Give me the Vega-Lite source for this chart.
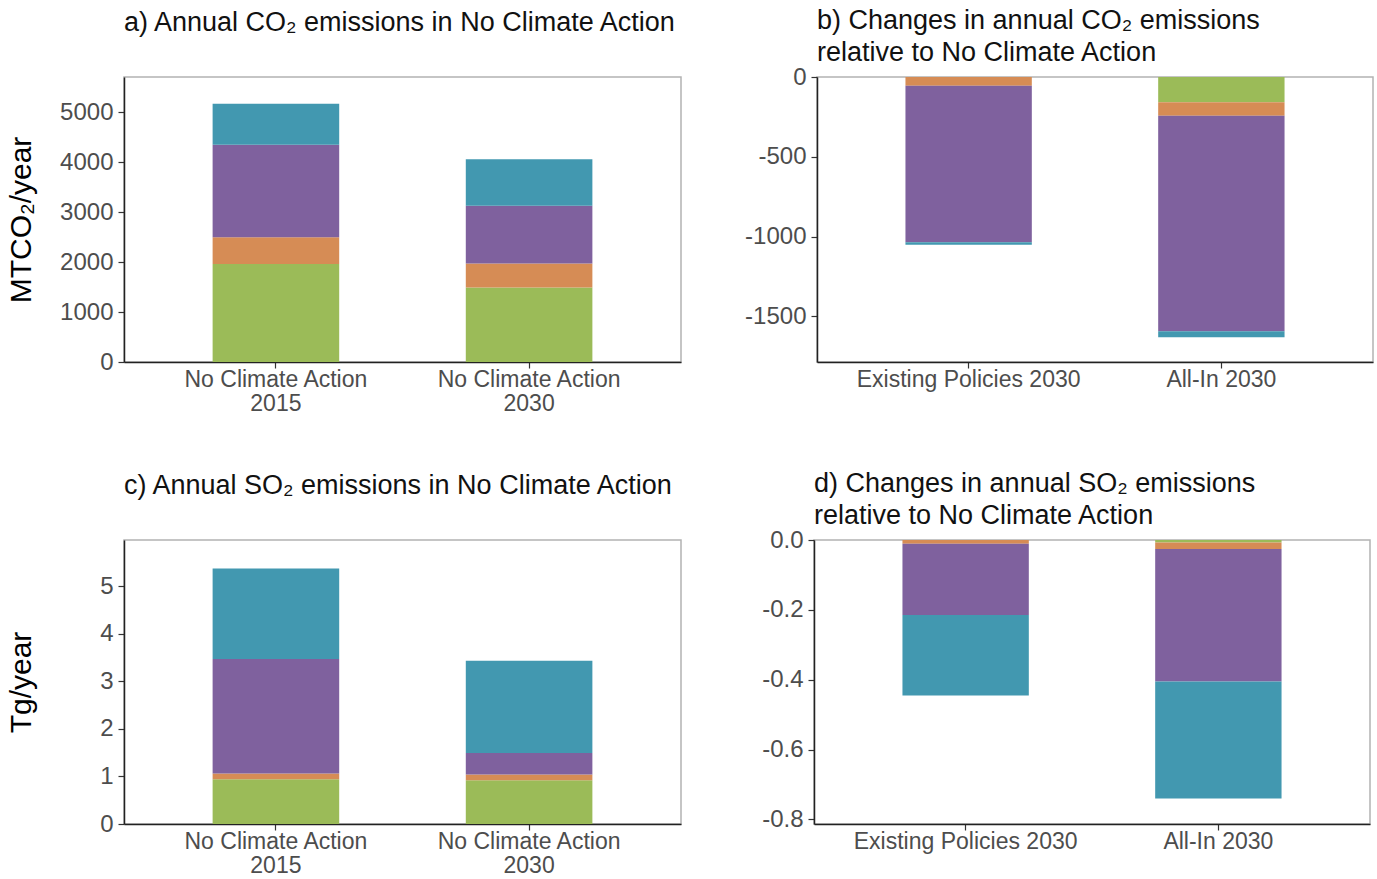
{
  "$schema": "https://vega.github.io/schema/vega-lite/v6.json",
  "background": "white",
  "padding": {"left": 5, "top": 6, "right": 2, "bottom": 0},
  "config": {
    "font": "Liberation Sans",
    "view": {"stroke": "#b3b3b3", "strokeWidth": 1.5},
    "title": {"fontSize": 27, "fontWeight": "normal", "color": "#111111", "anchor": "start", "frame": "group", "lineHeight": 32, "offset": -2},
    "axis": {"domainColor": "#222222", "domainWidth": 1.5, "tickColor": "#333333", "tickWidth": 1.2, "tickSize": 6, "labelColor": "#4d4d4d", "labelFontSize": 24, "grid": false, "labelPadding": 5, "titleFontWeight": "normal", "titleColor": "#000000", "titleFontSize": 30},
    "axisX": {"labelAngle": 0, "labelFontSize": 23, "labelLineHeight": 24, "labelLimit": 0, "labelPadding": 0, "title": null},
    "bar": {"stroke": null}
  },
  "datasets": {
    "emissions": [
      {"panel": "a", "scenario": "No Climate Action 2015", "sector": "Buildings", "rank": 1, "value": 1960},
      {"panel": "a", "scenario": "No Climate Action 2015", "sector": "Transport", "rank": 2, "value": 535},
      {"panel": "a", "scenario": "No Climate Action 2015", "sector": "Power", "rank": 3, "value": 1850},
      {"panel": "a", "scenario": "No Climate Action 2015", "sector": "Industry", "rank": 4, "value": 820},
      {"panel": "a", "scenario": "No Climate Action 2030", "sector": "Buildings", "rank": 1, "value": 1490},
      {"panel": "a", "scenario": "No Climate Action 2030", "sector": "Transport", "rank": 2, "value": 480},
      {"panel": "a", "scenario": "No Climate Action 2030", "sector": "Power", "rank": 3, "value": 1155},
      {"panel": "a", "scenario": "No Climate Action 2030", "sector": "Industry", "rank": 4, "value": 930},
      {"panel": "b", "scenario": "Existing Policies 2030", "sector": "Transport", "rank": 2, "value": -55},
      {"panel": "b", "scenario": "Existing Policies 2030", "sector": "Power", "rank": 3, "value": -980},
      {"panel": "b", "scenario": "Existing Policies 2030", "sector": "Industry", "rank": 4, "value": -15},
      {"panel": "b", "scenario": "All-In 2030", "sector": "Buildings", "rank": 1, "value": -158},
      {"panel": "b", "scenario": "All-In 2030", "sector": "Transport", "rank": 2, "value": -84},
      {"panel": "b", "scenario": "All-In 2030", "sector": "Power", "rank": 3, "value": -1350},
      {"panel": "b", "scenario": "All-In 2030", "sector": "Industry", "rank": 4, "value": -38},
      {"panel": "c", "scenario": "No Climate Action 2015", "sector": "Buildings", "rank": 1, "value": 0.94},
      {"panel": "c", "scenario": "No Climate Action 2015", "sector": "Transport", "rank": 2, "value": 0.12},
      {"panel": "c", "scenario": "No Climate Action 2015", "sector": "Power", "rank": 3, "value": 2.41},
      {"panel": "c", "scenario": "No Climate Action 2015", "sector": "Industry", "rank": 4, "value": 1.9},
      {"panel": "c", "scenario": "No Climate Action 2030", "sector": "Buildings", "rank": 1, "value": 0.92},
      {"panel": "c", "scenario": "No Climate Action 2030", "sector": "Transport", "rank": 2, "value": 0.12},
      {"panel": "c", "scenario": "No Climate Action 2030", "sector": "Power", "rank": 3, "value": 0.45},
      {"panel": "c", "scenario": "No Climate Action 2030", "sector": "Industry", "rank": 4, "value": 1.94},
      {"panel": "d", "scenario": "Existing Policies 2030", "sector": "Transport", "rank": 2, "value": -0.011},
      {"panel": "d", "scenario": "Existing Policies 2030", "sector": "Power", "rank": 3, "value": -0.204},
      {"panel": "d", "scenario": "Existing Policies 2030", "sector": "Industry", "rank": 4, "value": -0.23},
      {"panel": "d", "scenario": "All-In 2030", "sector": "Buildings", "rank": 1, "value": -0.007},
      {"panel": "d", "scenario": "All-In 2030", "sector": "Transport", "rank": 2, "value": -0.019},
      {"panel": "d", "scenario": "All-In 2030", "sector": "Power", "rank": 3, "value": -0.379},
      {"panel": "d", "scenario": "All-In 2030", "sector": "Industry", "rank": 4, "value": -0.335}
    ]
  },
  "spacing": 53,
  "vconcat": [
    {
      "spacing": 61,
      "hconcat": [
        {
          "width": 557, "height": 285,
          "title": {"text": "a) Annual CO₂ emissions in No Climate Action", "offset": 40},
          "data": {"name": "emissions"},
          "transform": [{"filter": "datum.panel == 'a'"}],
          "mark": "bar",
          "encoding": {
            "x": {"field": "scenario", "type": "nominal", "sort": ["No Climate Action 2015", "No Climate Action 2030"], "scale": {"paddingInner": 0.5, "paddingOuter": 0.35}, "axis": {"labelExpr": "[slice(datum.label, 0, 17), slice(datum.label, 18)]"}},
            "y": {"field": "value", "type": "quantitative", "stack": "zero", "scale": {"domain": [0, 5700], "nice": false, "zero": false}, "axis": {"values": [0, 1000, 2000, 3000, 4000, 5000], "title": "MTCO₂/year", "titlePadding": 26, "minExtent": 62, "maxExtent": 62, "labelExpr": "datum.value + ''"}},
            "color": {"field": "sector", "type": "nominal", "scale": {"domain": ["Buildings", "Transport", "Power", "Industry"], "range": ["#9bbb58", "#d68c55", "#7f619e", "#4298b0"]}, "legend": null},
            "order": {"field": "rank", "type": "quantitative"}
          }
        },
        {
          "width": 556, "height": 285,
          "title": {"text": ["b) Changes in annual CO₂ emissions", "relative to No Climate Action"]},
          "data": {"name": "emissions"},
          "transform": [{"filter": "datum.panel == 'b'"}],
          "mark": "bar",
          "encoding": {
            "x": {"field": "scenario", "type": "nominal", "sort": ["Existing Policies 2030", "All-In 2030"], "scale": {"paddingInner": 0.5, "paddingOuter": 0.35}},
            "y": {"field": "value", "type": "quantitative", "stack": "zero", "scale": {"domain": [-1785, 0], "nice": false, "zero": false}, "axis": {"values": [0, -500, -1000, -1500], "title": null, "minExtent": 70, "maxExtent": 70, "labelExpr": "datum.value + ''"}},
            "color": {"field": "sector", "type": "nominal", "scale": {"domain": ["Buildings", "Transport", "Power", "Industry"], "range": ["#9bbb58", "#d68c55", "#7f619e", "#4298b0"]}, "legend": null},
            "order": {"field": "rank", "type": "quantitative"}
          }
        }
      ]
    },
    {
      "spacing": 61,
      "hconcat": [
        {
          "width": 557, "height": 284,
          "title": {"text": "c) Annual SO₂ emissions in No Climate Action", "offset": 40},
          "data": {"name": "emissions"},
          "transform": [{"filter": "datum.panel == 'c'"}],
          "mark": "bar",
          "encoding": {
            "x": {"field": "scenario", "type": "nominal", "sort": ["No Climate Action 2015", "No Climate Action 2030"], "scale": {"paddingInner": 0.5, "paddingOuter": 0.35}, "axis": {"labelExpr": "[slice(datum.label, 0, 17), slice(datum.label, 18)]"}},
            "y": {"field": "value", "type": "quantitative", "stack": "zero", "scale": {"domain": [0, 5.97], "nice": false, "zero": false}, "axis": {"values": [0, 1, 2, 3, 4, 5], "title": "Tg/year", "titlePadding": 26, "minExtent": 62, "maxExtent": 62, "labelExpr": "datum.value + ''"}},
            "color": {"field": "sector", "type": "nominal", "scale": {"domain": ["Buildings", "Transport", "Power", "Industry"], "range": ["#9bbb58", "#d68c55", "#7f619e", "#4298b0"]}, "legend": null},
            "order": {"field": "rank", "type": "quantitative"}
          }
        },
        {
          "width": 556, "height": 284,
          "title": {"text": ["d) Changes in annual SO₂ emissions", "relative to No Climate Action"]},
          "data": {"name": "emissions"},
          "transform": [{"filter": "datum.panel == 'd'"}],
          "mark": "bar",
          "encoding": {
            "x": {"field": "scenario", "type": "nominal", "sort": ["Existing Policies 2030", "All-In 2030"], "scale": {"paddingInner": 0.5, "paddingOuter": 0.35}},
            "y": {"field": "value", "type": "quantitative", "stack": "zero", "scale": {"domain": [-0.813, 0], "nice": false, "zero": false}, "axis": {"values": [0, -0.2, -0.4, -0.6, -0.8], "title": null, "minExtent": 70, "maxExtent": 70, "labelExpr": "replace(format(datum.value, '.1f'), '−', '-')"}},
            "color": {"field": "sector", "type": "nominal", "scale": {"domain": ["Buildings", "Transport", "Power", "Industry"], "range": ["#9bbb58", "#d68c55", "#7f619e", "#4298b0"]}, "legend": null},
            "order": {"field": "rank", "type": "quantitative"}
          }
        }
      ]
    }
  ]
}
